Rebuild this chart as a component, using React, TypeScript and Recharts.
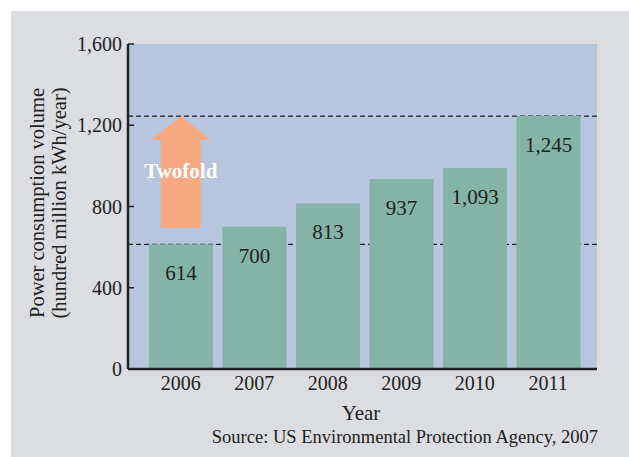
import React from "react";
import {
  BarChart,
  Bar,
  XAxis,
  YAxis,
  CartesianGrid,
  ReferenceLine,
  ReferenceArea,
  LabelList,
} from "recharts";

const years = ["2006", "2007", "2008", "2009", "2010", "2011"];
// bar heights as drawn in the picture
const barHeights = [614, 700, 815, 935, 990, 1245];
// printed value labels
const valueLabels = ["614", "700", "813", "937", "1,093", "1,245"];
const yTicks = [0, 400, 800, 1200, 1600];
const dashedLevels = [614, 1245];
const arrowFrom = 694;
const arrowTo = 1245;

const data = years.map((y, i) => ({
  year: y,
  value: barHeights[i],
  label: valueLabels[i],
}));

const FONT = "'Liberation Serif', 'Times New Roman', serif";
const fmt = (v: number) => v.toLocaleString("en-US");

const ArrowShape = (props: any) => {
  const { x, y, width, height } = props;
  if (x == null || y == null) return null;
  const cx = x + width / 2;
  const shaft = 20;
  const head = 30;
  const headH = 24;
  const bottom = y + height;
  const d = `M ${cx} ${y} L ${cx + head} ${y + headH} L ${cx + shaft} ${y + headH} L ${cx + shaft} ${bottom} L ${cx - shaft} ${bottom} L ${cx - shaft} ${y + headH} L ${cx - head} ${y + headH} Z`;
  return (
    <g>
      <path d={d} fill="#f7a982" />
      <text
        x={cx}
        y={y + 57}
        textAnchor="middle"
        dominantBaseline="middle"
        fill="#ffffff"
        fontWeight="bold"
        fontSize={21}
        fontFamily={FONT}
      >
        Twofold
      </text>
    </g>
  );
};

export default function App() {
  return (
    <div
      style={{
        position: "absolute",
        left: 0,
        top: 0,
        width: 629,
        height: 457,
        background: "#ffffff",
        overflow: "hidden",
      }}
    >
      <div
        style={{
          position: "absolute",
          left: 11,
          top: 11,
          width: 618,
          height: 446,
          background: "#dcdde0",
        }}
      />
      <div style={{ position: "absolute", left: 0, top: 0 }}>
        <BarChart
          width={629}
          height={457}
          data={data}
          margin={{ top: 44, right: 32, bottom: 58, left: 68 }}
        >
          <CartesianGrid
            horizontal={false}
            vertical={false}
            fill="#b7c6de"
            stroke="none"
          />
          {dashedLevels.map((lv) => (
            <ReferenceLine
              key={lv}
              y={lv}
              stroke="#222222"
              strokeWidth={1.2}
              strokeDasharray="5 3"
              zIndex={200}
            />
          ))}
          <XAxis
            dataKey="year"
            padding={{ left: 16, right: 12 }}
            tickLine={false}
            tickSize={0}
            tickMargin={7}
            height={30}
            axisLine={{ stroke: "#222222", strokeWidth: 2.5 }}
            tick={{ fill: "#222222", fontSize: 20, fontFamily: FONT }}
          />
          <YAxis
            domain={[0, 1600]}
            ticks={yTicks}
            width={60}
            tickFormatter={fmt}
            tickSize={-6}
            tickMargin={12}
            axisLine={{ stroke: "#222222", strokeWidth: 2.5 }}
            tickLine={{ stroke: "#222222", strokeWidth: 1.5 }}
            tick={{ fill: "#222222", fontSize: 20, fontFamily: FONT }}
            interval={0}
          />
          <ReferenceArea
            x1="2006"
            x2="2006"
            y1={arrowFrom}
            y2={arrowTo}
            shape={<ArrowShape />}
            ifOverflow="visible"
          />
          <Bar
            dataKey="value"
            fill="#84b4a6"
            barSize={64}
            isAnimationActive={false}
          >
            <LabelList
              dataKey="label"
              position="insideTop"
              offset={21}
              fill="#222222"
              fontSize={21}
              fontFamily={FONT}
            />
          </Bar>
        </BarChart>
      </div>
      <svg
        width={629}
        height={457}
        style={{ position: "absolute", left: 0, top: 0, pointerEvents: "none" }}
      >
        <text
          transform="translate(39,203) rotate(-90)"
          textAnchor="middle"
          dominantBaseline="middle"
          fill="#222222"
          fontSize={20.5}
          fontFamily={FONT}
        >
          Power consumption volume
        </text>
        <text
          transform="translate(61,203) rotate(-90)"
          textAnchor="middle"
          dominantBaseline="middle"
          fill="#222222"
          fontSize={20.5}
          fontFamily={FONT}
        >
          (hundred million kWh/year)
        </text>
        <text
          x={361}
          y={415}
          textAnchor="middle"
          dominantBaseline="middle"
          fill="#222222"
          fontSize={21}
          fontFamily={FONT}
        >
          Year
        </text>
        <text
          x={598}
          y={439}
          textAnchor="end"
          dominantBaseline="middle"
          fill="#222222"
          fontSize={18.5}
          fontFamily={FONT}
        >
          Source: US Environmental Protection Agency, 2007
        </text>
      </svg>
    </div>
  );
}
